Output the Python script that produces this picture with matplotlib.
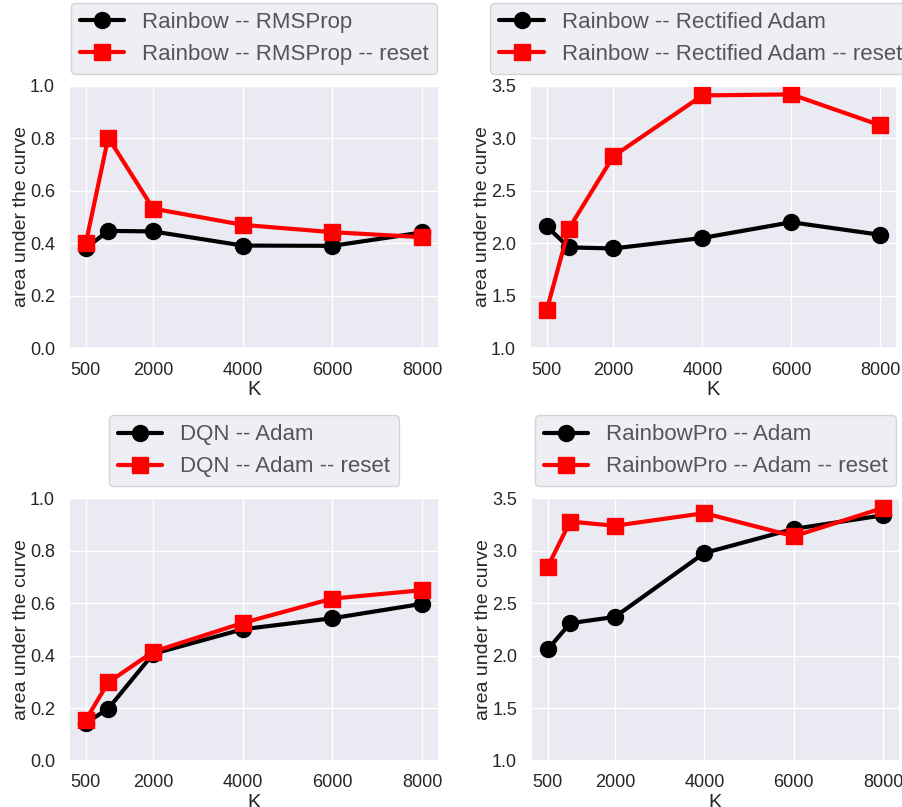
import matplotlib
matplotlib.use("Agg")
import matplotlib.pyplot as plt
import seaborn as sns

sns.set_theme(style="darkgrid")
plt.rcParams["font.family"] = ["Liberation Sans", "DejaVu Sans"]

K = [500, 1000, 2000, 4000, 6000, 8000]
xticks = [500, 2000, 4000, 6000, 8000]

rainbow_rmsprop = [0.381, 0.447, 0.445, 0.391, 0.390, 0.441]
rainbow_rmsprop_reset = [0.400, 0.803, 0.532, 0.470, 0.442, 0.423]

rainbow_radam = [2.16, 1.96, 1.95, 2.05, 2.20, 2.08]
rainbow_radam_reset = [1.36, 2.14, 2.83, 3.41, 3.42, 3.125]

dqn_adam = [0.143, 0.198, 0.407, 0.501, 0.543, 0.598]
dqn_adam_reset = [0.155, 0.298, 0.415, 0.525, 0.618, 0.650]

rainbowpro_adam = [2.06, 2.31, 2.37, 2.98, 3.21, 3.34]
rainbowpro_adam_reset = [2.85, 3.28, 3.24, 3.36, 3.14, 3.41]

panels = [
    ("Rainbow -- RMSProp", rainbow_rmsprop, rainbow_rmsprop_reset, (0.0, 1.0), 0.5),
    ("Rainbow -- Rectified Adam", rainbow_radam, rainbow_radam_reset, (1.0, 3.5), 0.465),
    ("DQN -- Adam", dqn_adam, dqn_adam_reset, (0.0, 1.0), 0.5),
    ("RainbowPro -- Adam", rainbowpro_adam, rainbowpro_adam_reset, (1.0, 3.5), 0.5),
]

W, H = 903, 807
fig = plt.figure(figsize=(W / 100, H / 100), dpi=100)

# axes rectangles in pixels: left, top, width, height
rects = [
    (69, 86, 370, 262),
    (530, 86, 367, 262),
    (69, 498.5, 370, 262),
    (531, 498.5, 369, 262),
]

for (name, base, reset, ylim, lx), (l, t, w, h) in zip(panels, rects):
    ax = fig.add_axes([l / W, 1 - (t + h) / H, w / W, h / H])
    ax.plot(K, base, color="black", marker="o", lw=3, ms=11.5, label=name)
    ax.plot(K, reset, color="red", marker="s", lw=3, ms=11.5, label=name + " -- reset")
    ax.set_ylim(*ylim)
    ax.set_xticks(xticks)
    ax.tick_params(labelsize=13, colors="#262626", pad=4)
    ax.set_xlabel("K", fontsize=14.5, labelpad=1, color="#262626")
    ax.set_ylabel("area under the curve", fontsize=14, labelpad=0, color="#262626")
    leg = ax.legend(loc="lower center", bbox_to_anchor=(lx, 1.004), fontsize=16,
                    handlelength=2.0, borderaxespad=0.5)
    for txt in leg.get_texts():
        txt.set_color("#555555")

fig.savefig("out.png", dpi=100)
